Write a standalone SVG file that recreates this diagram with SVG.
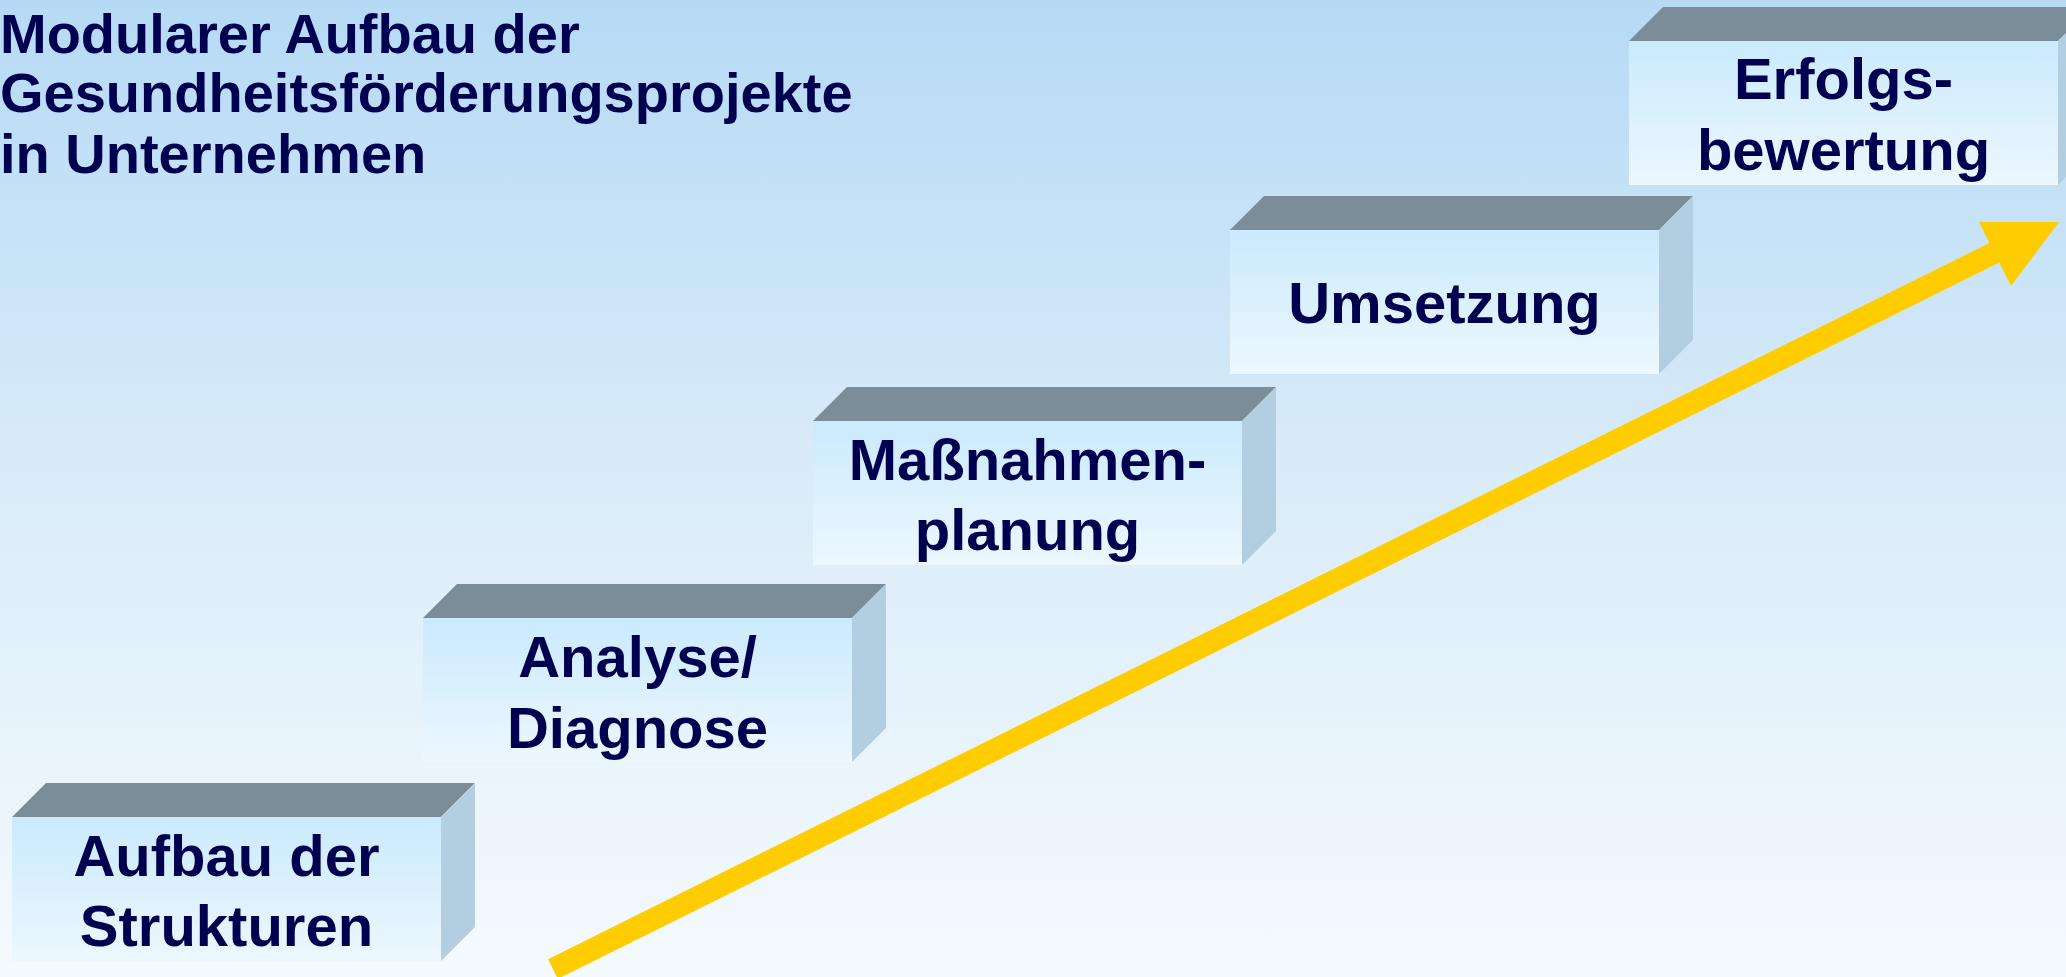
<svg xmlns="http://www.w3.org/2000/svg" width="2066" height="977" viewBox="0 0 2066 977">
  <defs>
    <linearGradient id="bg" x1="0" y1="0" x2="0" y2="1">
      <stop offset="0" stop-color="#B6DAF5"/>
      <stop offset="0.5" stop-color="#DAECF9"/>
      <stop offset="1" stop-color="#F5FAFE"/>
    </linearGradient>
    <linearGradient id="front" x1="0" y1="0" x2="0" y2="1">
      <stop offset="0" stop-color="#CAEAFD"/>
      <stop offset="1" stop-color="#EDF7FE"/>
    </linearGradient>
  </defs>
  <style>
    .top { fill: #7A8D98; }
    .side { fill: #B3CEE0; }
    .front { fill: url(#front); }
    .lbl { font-family: "Liberation Sans", Arial, sans-serif; font-weight: bold; font-size: 58px; fill: #000050; text-anchor: middle; }
    .title { font-family: "Liberation Sans", Arial, sans-serif; font-weight: bold; font-size: 56px; fill: #000050; }
    .shaft { stroke: #FFCC00; stroke-width: 22; fill: none; stroke-linecap: butt; }
    .head { fill: #FFCC00; }
  </style>

  <rect x="0" y="0" width="2066" height="977" fill="url(#bg)"/>

  <g id="title">
    <text class="title" x="0" y="53">Modularer Aufbau der</text>
    <text class="title" x="0" y="112">Gesundheitsförderungsprojekte</text>
    <text class="title" x="0" y="173">in Unternehmen</text>
  </g>

  <g id="connectors">
    <line class="shaft" x1="553" y1="969" x2="2004" y2="248"/>
    <polygon class="head" points="1979,222 2059,222 2011,286"/>
  </g>

  <g id="step1">
    <polygon class="top" points="12,817 46,783 475,783 441,817"/>
    <polygon class="side" points="441,817 475,783 475,927 441,961"/>
    <rect class="front" x="12" y="817" width="429" height="144"/>
    <text class="lbl" x="226.5" y="876">Aufbau der</text>
    <text class="lbl" x="226.5" y="946">Strukturen</text>
  </g>

  <g id="step2">
    <polygon class="top" points="423,618 457,584 886,584 852,618"/>
    <polygon class="side" points="852,618 886,584 886,728 852,762"/>
    <rect class="front" x="423" y="618" width="429" height="144"/>
    <text class="lbl" x="637.5" y="677">Analyse/</text>
    <text class="lbl" x="637.5" y="748">Diagnose</text>
  </g>

  <g id="step3">
    <polygon class="top" points="813,421 847,387 1276,387 1242,421"/>
    <polygon class="side" points="1242,421 1276,387 1276,531 1242,565"/>
    <rect class="front" x="813" y="421" width="429" height="144"/>
    <text class="lbl" x="1027.5" y="480">Maßnahmen-</text>
    <text class="lbl" x="1027.5" y="550">planung</text>
  </g>

  <g id="step4">
    <polygon class="top" points="1230,230 1264,196 1693,196 1659,230"/>
    <polygon class="side" points="1659,230 1693,196 1693,340 1659,374"/>
    <rect class="front" x="1230" y="230" width="429" height="144"/>
    <text class="lbl" x="1444.5" y="323">Umsetzung</text>
  </g>

  <g id="step5">
    <polygon class="top" points="1629,41 1663,7 2092,7 2058,41"/>
    <polygon class="side" points="2058,41 2092,7 2092,151 2058,185"/>
    <rect class="front" x="1629" y="41" width="429" height="144"/>
    <text class="lbl" x="1843.5" y="99">Erfolgs-</text>
    <text class="lbl" x="1843.5" y="170">bewertung</text>
  </g>
</svg>
